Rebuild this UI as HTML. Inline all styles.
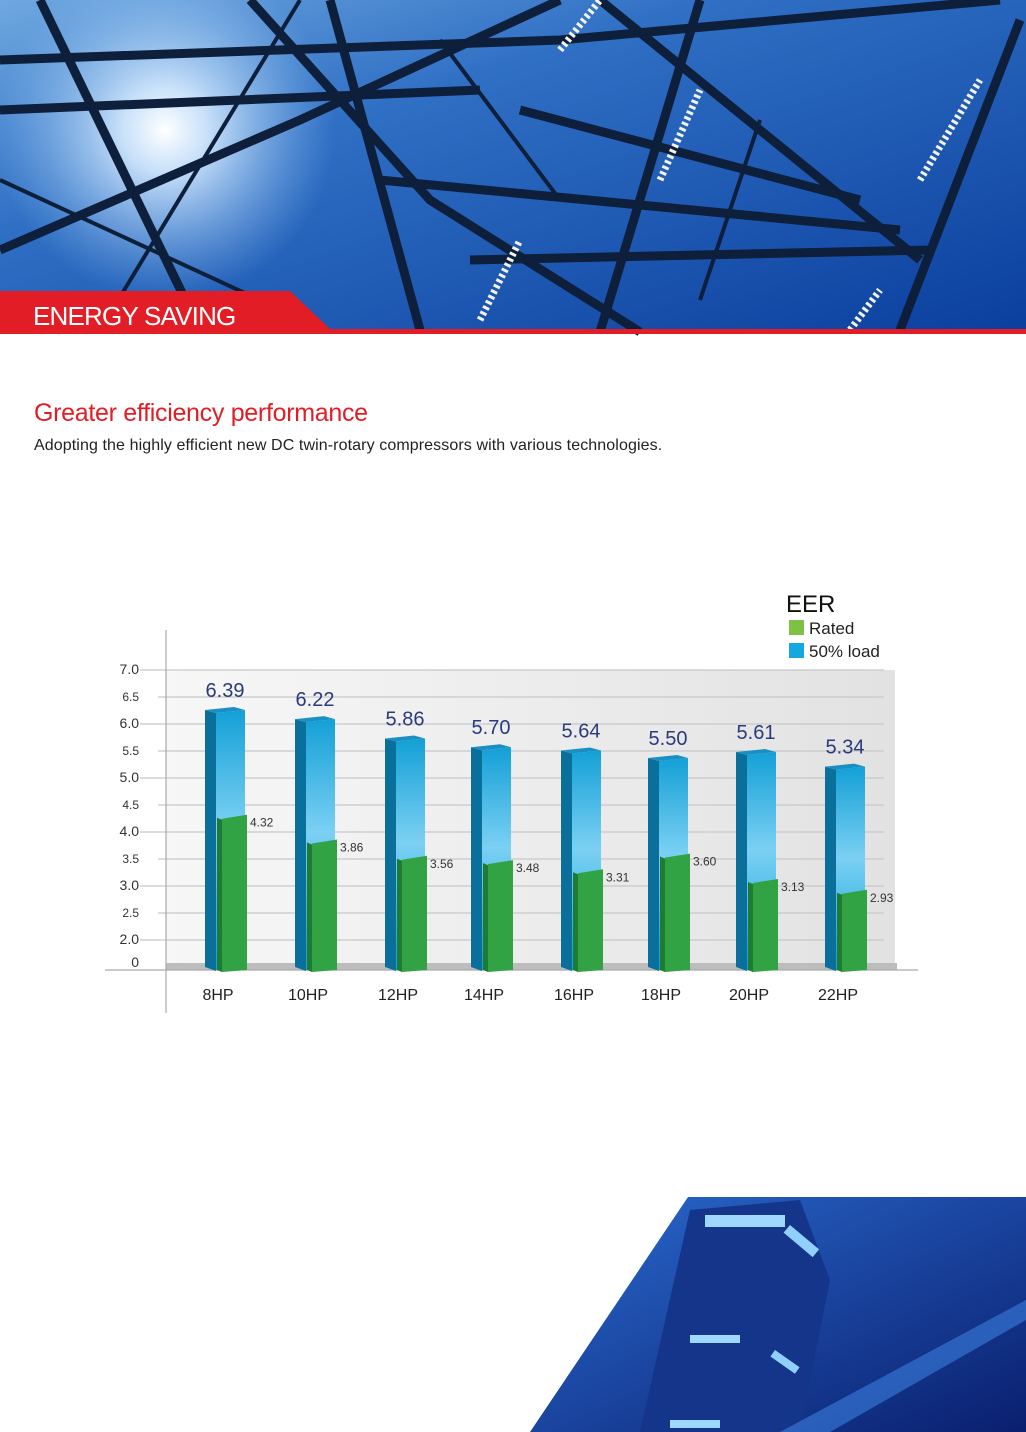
<!DOCTYPE html>
<html><head><meta charset="utf-8"><style>
html,body{margin:0;padding:0;background:#fff}
body{width:1026px;height:1432px;position:relative;overflow:hidden;font-family:"Liberation Sans",sans-serif}
</style></head><body>
<svg width="1026" height="1432" viewBox="0 0 1026 1432" xmlns="http://www.w3.org/2000/svg" style="position:absolute;left:0;top:0">
<defs>
<linearGradient id="sky" x1="0" y1="0" x2="1" y2="1">
<stop offset="0" stop-color="#6fa8e0"/><stop offset="0.35" stop-color="#2f6fc4"/><stop offset="1" stop-color="#0b3f9e"/></linearGradient>
<radialGradient id="sun" cx="165" cy="130" r="170" gradientUnits="userSpaceOnUse">
<stop offset="0" stop-color="#fff"/><stop offset="0.25" stop-color="#d8ecff" stop-opacity="0.9"/><stop offset="1" stop-color="#8fc0f0" stop-opacity="0"/></radialGradient>
<linearGradient id="panel" x1="0" y1="0" x2="1" y2="0">
<stop offset="0" stop-color="#f7f7f7"/><stop offset="1" stop-color="#e2e2e2"/></linearGradient>
<linearGradient id="blueF" x1="0" y1="0" x2="0" y2="1">
<stop offset="0" stop-color="#13a0d6"/><stop offset="0.45" stop-color="#7bd0f3"/><stop offset="1" stop-color="#0aa3d8"/></linearGradient>
<linearGradient id="city" x1="0" y1="0" x2="1" y2="1">
<stop offset="0" stop-color="#2a6ad0"/><stop offset="1" stop-color="#0a1f6e"/></linearGradient>
</defs>
<rect x="0" y="0" width="1026" height="332" fill="url(#sky)"/>
<rect x="0" y="0" width="1026" height="332" fill="url(#sun)"/>
<g stroke="#0d1f3a" stroke-width="9" fill="none">
<path d="M0 60 L560 40 L1000 0"/><path d="M0 110 L480 90"/><path d="M250 0 L430 200 L640 332"/>
<path d="M0 250 L300 120 L560 0"/><path d="M330 0 L420 330"/><path d="M600 0 L920 260"/>
<path d="M380 180 L900 230"/><path d="M470 260 L930 250"/><path d="M700 0 L600 332"/>
<path d="M40 0 L200 330"/><path d="M1020 20 L900 330"/><path d="M520 110 L860 200"/>
</g>
<g stroke="#0d1f3a" stroke-width="4" fill="none">
<path d="M100 330 L300 0"/><path d="M0 180 L260 300"/><path d="M440 40 L560 200"/><path d="M760 120 L700 300"/>
</g>
<g stroke="#f2f2e6" stroke-width="7" stroke-dasharray="3 3">
<path d="M560 50 L600 0"/><path d="M920 180 L980 80"/><path d="M660 180 L700 90"/><path d="M480 320 L520 240"/><path d="M850 330 L880 290"/>
</g>
<path d="M0 291 L290 291 L330 329 L1026 329 L1026 334 L0 334 Z" fill="#e21d25"/>
<text x="33" y="325" font-size="26" fill="#fff" letter-spacing="-0.8">ENERGY SAVING</text>
<text x="34" y="421" font-size="25" fill="#e21d25" letter-spacing="-0.3">Greater efficiency performance</text>
<text x="34" y="450" font-size="16" fill="#222" letter-spacing="0.1">Adopting the highly efficient new DC twin-rotary compressors with various technologies.</text>
<rect x="166" y="670" width="729" height="297" fill="url(#panel)"/>
<g id="grid" stroke="#c8c8c8" stroke-width="1.2"></g>
<rect x="166" y="963" width="731" height="7" fill="#bdbdbd"/>
<line x1="166" y1="630" x2="166" y2="1013" stroke="#aaa" stroke-width="1.2"/>
<line x1="105" y1="970" x2="918" y2="970" stroke="#aaa" stroke-width="1.2"/>
<g id="ylab" font-size="13" fill="#333"></g>
<g id="bars"></g>
<text x="786" y="612" font-size="24" fill="#111">EER</text>
<rect x="789" y="620" width="15" height="15" fill="#7dc242"/>
<text x="809" y="634" font-size="17" fill="#222">Rated</text>
<rect x="789" y="643" width="15" height="15" fill="#13a9e0"/>
<text x="809" y="657" font-size="17" fill="#222">50% load</text>
<path d="M688 1197 L1026 1197 L1026 1432 L530 1432 Z" fill="url(#city)"/>
<path d="M690 1210 L800 1200 L830 1280 L800 1432 L640 1432 Z" fill="#15358a"/>
<rect x="705" y="1215" width="80" height="12" fill="#9fd8ff"/>
<rect x="790" y="1225" width="38" height="10" fill="#8fd0ff" transform="rotate(40 790 1225)"/>
<rect x="690" y="1335" width="50" height="8" fill="#9fd8ff"/>
<rect x="775" y="1350" width="30" height="8" fill="#8fd0ff" transform="rotate(35 775 1350)"/>
<path d="M780 1432 L1026 1300 L1026 1320 L830 1432 Z" fill="#3a7ee0" opacity="0.6"/>
<rect x="670" y="1420" width="50" height="8" fill="#9fd8ff"/>
</svg>
<script>
var ns="http://www.w3.org/2000/svg";
function el(p,t,a,tx){var e=document.createElementNS(ns,t);for(var k in a)e.setAttribute(k,a[k]);if(tx!=null)e.textContent=tx;p.appendChild(e);return e;}
function Y(v){return 670+(7-v)*54;}
var g=document.getElementById('grid'),yl=document.getElementById('ylab');
var ticks=[7,6.5,6,5.5,5,4.5,4,3.5,3,2.5,2];
ticks.forEach(function(v){var y=Y(v);var major=(v*2)%2==0;
el(g,'line',{x1:major?140:158,y1:y,x2:884,y2:y});
el(yl,'text',{x:139,y:y+4,'text-anchor':'end','font-size':major?14:12},v.toFixed(1));});
el(yl,'text',{x:139,y:967,'text-anchor':'end','font-size':14},'0');
var cs=[218,308,398,484,574,661,749,838],bl=[6.39,6.22,5.86,5.70,5.64,5.50,5.61,5.34],gr=[4.32,3.86,3.56,3.48,3.31,3.60,3.13,2.93],nm=['8HP','10HP','12HP','14HP','16HP','18HP','20HP','22HP'];
var b=document.getElementById('bars');
for(var i=0;i<8;i++){var L=cs[i]-13,bt=Y(bl[i])+4,gt=Y(gr[i]),bot=970;
el(b,'path',{d:'M'+L+' '+(bt+3)+' L'+(L+11)+' '+(bt+6)+' L'+(L+11)+' '+(bot+1)+' L'+L+' '+(bot-3)+' Z',fill:'#0b6f9c'});
el(b,'path',{d:'M'+(L+11)+' '+(bt+6)+' L'+(L+40)+' '+(bt+3)+' L'+(L+40)+' '+bot+' L'+(L+11)+' '+bot+' Z',fill:'url(#blueF)'});
el(b,'path',{d:'M'+L+' '+(bt+3)+' L'+(L+29)+' '+bt+' L'+(L+40)+' '+(bt+3)+' L'+(L+11)+' '+(bt+6)+' Z',fill:'#1a8fc4'});
el(b,'path',{d:'M'+(L+12)+' '+(gt+3)+' L'+(L+17)+' '+(gt+5)+' L'+(L+17)+' '+(bot+2)+' L'+(L+12)+' '+(bot)+' Z',fill:'#1f7a32'});
el(b,'path',{d:'M'+(L+17)+' '+(gt+4)+' L'+(L+42)+' '+gt+' L'+(L+42)+' '+(bot)+' L'+(L+17)+' '+(bot+2)+' Z',fill:'#31a345'});
el(b,'text',{x:L+20,y:bt-10,'text-anchor':'middle','font-size':20,fill:'#2b3a7a'},bl[i].toFixed(2));
el(b,'text',{x:L+45,y:gt+12,'font-size':12,fill:'#333'},gr[i].toFixed(2));
el(b,'text',{x:cs[i],y:1000,'text-anchor':'middle','font-size':16,fill:'#222'},nm[i]);}
</script>
</body></html>
